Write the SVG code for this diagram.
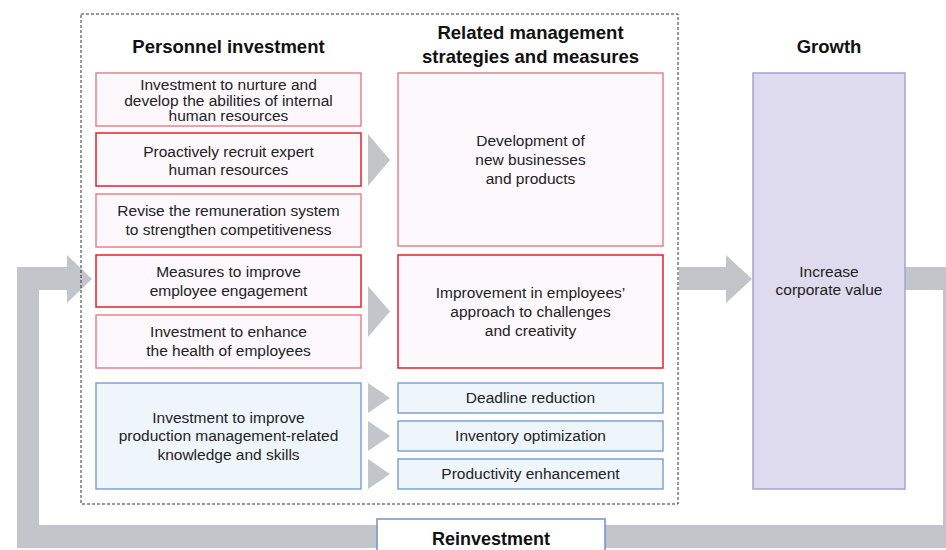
<svg xmlns="http://www.w3.org/2000/svg" width="946" height="550" viewBox="0 0 946 550">
<style>
.t{font-family:"Liberation Sans",Arial,sans-serif;font-size:15.5px;fill:#222;text-anchor:middle}
.h{font-family:"Liberation Sans",Arial,sans-serif;font-size:18.5px;font-weight:bold;fill:#111;text-anchor:middle}
.rp{fill:#fdf8fc;stroke:#e6838b;stroke-width:1.5}
.rr{fill:#fdf8fc;stroke:#e3202b;stroke-width:1.5}
.bl{fill:#eff6fb;stroke:#7ea3d6;stroke-width:1.5}
.pu{fill:#dedbef;stroke:#a8a2d2;stroke-width:1.5}
.g{fill:#c4c5ca}
</style>
<rect x="0" y="0" width="946" height="550" fill="#ffffff"/>
<g id="connectors">
<polygon class="g" points="92,279 67,303 67,290 39,290 39,525 943,525 943,290 905,290 905,267 966,267 966,548 17,548 17,267 67,267 67,255"/>
<polygon class="g" points="679,267 726,267 726,255 752,279 726,303 726,290 679,290"/>
<polygon class="g" points="368,134 390,160 368,186"/>
<polygon class="g" points="368,286 390,311.5 368,337"/>
<polygon class="g" points="368,383 390,398 368,413"/>
<polygon class="g" points="368,421 390,436 368,451"/>
<polygon class="g" points="368,459 390,474 368,489"/>
</g>
<rect id="frame" x="81" y="14" width="597" height="490" fill="none" stroke="#333" stroke-width="1" stroke-dasharray="3,2"/>
<text class="h" x="228.5" y="53">Personnel investment</text>
<text class="h" x="530.5" y="39">Related management</text>
<text class="h" x="530.5" y="63">strategies and measures</text>
<text class="h" x="829" y="53">Growth</text>
<g id="n1"><rect class="rp" x="96" y="73" width="265" height="53"/>
<text class="t" x="228.5" y="89.5">Investment to nurture and</text>
<text class="t" x="228.5" y="105.5">develop the abilities of internal</text>
<text class="t" x="228.5" y="121">human resources</text></g>
<g id="n2"><rect class="rr" x="96" y="133" width="265" height="53"/>
<text class="t" x="228.5" y="156.5">Proactively recruit expert</text>
<text class="t" x="228.5" y="175">human resources</text></g>
<g id="n3"><rect class="rp" x="96" y="194" width="265" height="53"/>
<text class="t" x="228.5" y="216">Revise the remuneration system</text>
<text class="t" x="228.5" y="235">to strengthen competitiveness</text></g>
<g id="n4"><rect class="rr" x="96" y="255" width="265" height="52"/>
<text class="t" x="228.5" y="276.5">Measures to improve</text>
<text class="t" x="228.5" y="295.5">employee engagement</text></g>
<g id="n5"><rect class="rp" x="96" y="315" width="265" height="53"/>
<text class="t" x="228.5" y="336.5">Investment to enhance</text>
<text class="t" x="228.5" y="355.5">the health of employees</text></g>
<g id="n6"><rect class="bl" x="96" y="383" width="265" height="106"/>
<text class="t" x="228.5" y="422.5">Investment to improve</text>
<text class="t" x="228.5" y="441">production management-related</text>
<text class="t" x="228.5" y="460">knowledge and skills</text></g>
<g id="m1"><rect class="rp" x="398" y="73" width="265" height="173"/>
<text class="t" x="530.5" y="145.5">Development of</text>
<text class="t" x="530.5" y="165">new businesses</text>
<text class="t" x="530.5" y="184">and products</text></g>
<g id="m2"><rect class="rr" x="398" y="255" width="265" height="113"/>
<text class="t" x="530.5" y="297.5">Improvement in employees’</text>
<text class="t" x="530.5" y="316.5">approach to challenges</text>
<text class="t" x="530.5" y="335.5">and creativity</text></g>
<g id="m3"><rect class="bl" x="398" y="383" width="265" height="30"/>
<text class="t" x="530.5" y="403">Deadline reduction</text></g>
<g id="m4"><rect class="bl" x="398" y="421" width="265" height="30"/>
<text class="t" x="530.5" y="441">Inventory optimization</text></g>
<g id="m5"><rect class="bl" x="398" y="459" width="265" height="30"/>
<text class="t" x="530.5" y="479">Productivity enhancement</text></g>
<g id="growth"><rect class="pu" x="753" y="73" width="152" height="416"/>
<text class="t" x="829" y="276.5">Increase</text>
<text class="t" x="829" y="295">corporate value</text></g>
<g id="reinvest"><rect x="377" y="519" width="228" height="40" fill="#ffffff" stroke="#6f93c9" stroke-width="1.5"/>
<text class="h" x="491" y="545" style="font-size:18px">Reinvestment</text></g>
</svg>
